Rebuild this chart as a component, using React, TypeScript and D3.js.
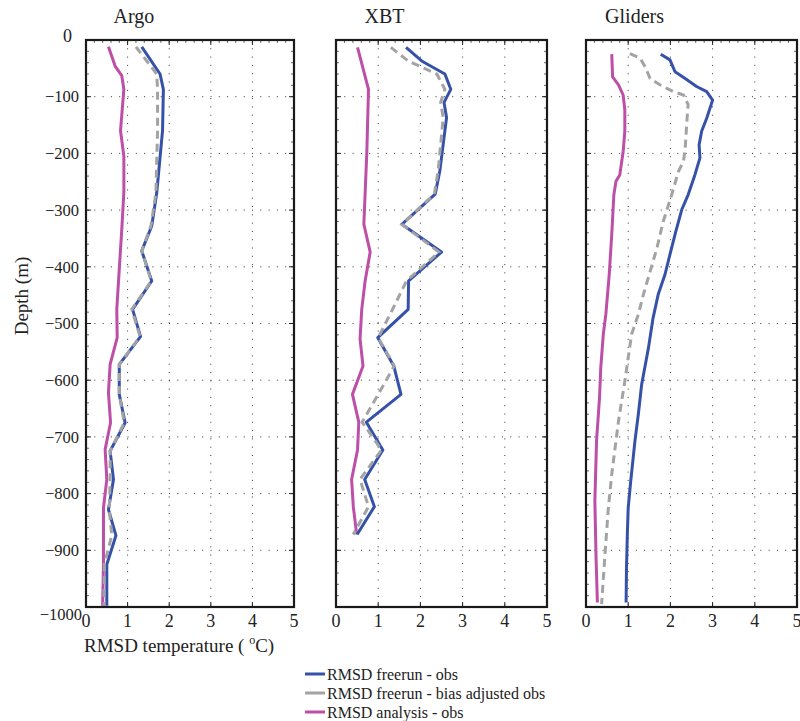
import * as d3 from "d3";

// depth in metres (positive down), RMSD in degC
const depthTicks = [0, 100, 200, 300, 400, 500, 600, 700, 800, 900, 1000];
const tempTicks = [0, 1, 2, 3, 4, 5];

const argoDepth = [12, 60, 87, 160, 270, 328, 372, 425, 475, 523, 572, 625, 675, 725, 775, 828, 874, 925, 998];
const argoFreerun = [1.34, 1.78, 1.86, 1.84, 1.7, 1.58, 1.34, 1.58, 1.12, 1.31, 0.8, 0.8, 0.94, 0.58, 0.66, 0.54, 0.72, 0.5, 0.5];
const argoBiasAdj = [1.2, 1.7, 1.72, 1.72, 1.68, 1.56, 1.34, 1.57, 1.1, 1.3, 0.8, 0.8, 0.92, 0.58, 0.58, 0.56, 0.62, 0.44, 0.43];
const argoAnaDepth = [12, 46, 63, 87, 160, 205, 269, 334, 404, 475, 525, 572, 622, 675, 722, 775, 825, 922, 998];
const argoAnalysis = [0.54, 0.7, 0.86, 0.91, 0.83, 0.91, 0.91, 0.86, 0.8, 0.74, 0.75, 0.58, 0.54, 0.59, 0.46, 0.5, 0.42, 0.42, 0.4];

const xbtDepth = [13, 37, 60, 87, 110, 137, 231, 272, 325, 374, 425, 475, 525, 575, 625, 674, 723, 775, 823, 872];
const xbtFreerun = [1.66, 2.03, 2.58, 2.72, 2.56, 2.62, 2.46, 2.35, 1.56, 2.5, 1.72, 1.71, 0.99, 1.37, 1.54, 0.72, 1.11, 0.68, 0.91, 0.5];
const xbtBiasAdj = [1.3, 1.71, 2.39, 2.58, 2.48, 2.54, 2.42, 2.33, 1.56, 2.44, 1.67, 1.34, 1.0, 1.38, 1.0, 0.62, 1.08, 0.57, 0.77, 0.41];
const xbtAnaDepth = [13, 87, 199, 325, 374, 425, 475, 527, 575, 625, 674, 723, 775, 823, 872];
const xbtAnalysis = [0.51, 0.77, 0.73, 0.66, 0.81, 0.69, 0.61, 0.57, 0.64, 0.39, 0.54, 0.51, 0.37, 0.41, 0.49];

const gliderFrDepth = [25, 35, 56, 68, 82, 91, 106, 138, 161, 185, 208, 238, 273, 299, 337, 378, 414, 449, 490, 543, 607, 660, 707, 778, 825, 871, 930, 992];
const gliderFreerun = [1.77, 1.99, 2.11, 2.35, 2.62, 2.86, 3.0, 2.86, 2.74, 2.68, 2.7, 2.58, 2.42, 2.27, 2.13, 1.99, 1.87, 1.71, 1.59, 1.48, 1.32, 1.24, 1.16, 1.06, 1.0, 0.98, 0.96, 0.95];
const gliderBaDepth = [24, 32, 47, 68, 79, 91, 97, 114, 144, 191, 214, 232, 273, 320, 367, 408, 449, 484, 519, 602, 672, 766, 825, 907, 995];
const gliderBiasAdj = [1.04, 1.28, 1.4, 1.52, 1.75, 2.07, 2.31, 2.42, 2.39, 2.35, 2.31, 2.19, 2.03, 1.83, 1.68, 1.52, 1.36, 1.24, 1.08, 0.92, 0.77, 0.61, 0.53, 0.45, 0.37];
const gliderAnaDepth = [25, 65, 79, 97, 123, 161, 197, 238, 249, 273, 343, 414, 484, 519, 578, 631, 707, 813, 918, 992];
const gliderAnalysis = [0.61, 0.63, 0.77, 0.88, 0.92, 0.92, 0.88, 0.8, 0.71, 0.66, 0.61, 0.55, 0.47, 0.41, 0.35, 0.32, 0.25, 0.21, 0.24, 0.27];

const legendLabels = ["RMSD freerun - obs", "RMSD freerun - bias adjusted obs", "RMSD analysis - obs"];

const BLUE = "#3552a8";
const GRAY = "#a3a3a6";
const MAGENTA = "#bd4fa6";
const FONT = "Liberation Serif, Times New Roman, DejaVu Serif, Noto Serif, serif";

const top = 40;
const bottom = 607;

const zip = (d: number[], v: number[]) => d.map((dd, i) => [v[i], dd] as [number, number]);

const panels = [
  { title: "Argo", left: 86, right: 294, fr: zip(argoDepth, argoFreerun), ba: zip(argoDepth, argoBiasAdj), an: zip(argoAnaDepth, argoAnalysis) },
  { title: "XBT", left: 336, right: 547, fr: zip(xbtDepth, xbtFreerun), ba: zip(xbtDepth, xbtBiasAdj), an: zip(xbtAnaDepth, xbtAnalysis) },
  { title: "Gliders", left: 586, right: 797, fr: zip(gliderFrDepth, gliderFreerun), ba: zip(gliderBaDepth, gliderBiasAdj), an: zip(gliderAnaDepth, gliderAnalysis) },
];

function Panel({ p, first }: { p: (typeof panels)[number]; first: boolean }) {
  const x = d3.scaleLinear().domain([0, 5]).range([p.left, p.right]);
  const y = d3.scaleLinear().domain([0, 1000]).range([top, bottom]);
  const line = d3
    .line<[number, number]>()
    .x((d) => x(d[0]))
    .y((d) => y(d[1]));
  const minorX = d3.range(0, 5.001, 0.2);
  const minorY = d3.range(0, 1000.1, 20);
  return (
    <g>
      {/* dotted grid */}
      {tempTicks.slice(1, -1).map((t) => (
        <line key={"gx" + t} x1={x(t)} x2={x(t)} y1={top} y2={bottom} stroke="#333" strokeWidth={1} strokeDasharray="1,7.3" />
      ))}
      {depthTicks.slice(1, -1).map((t) => (
        <line key={"gy" + t} x1={p.left} x2={p.right} y1={y(t)} y2={y(t)} stroke="#333" strokeWidth={1} strokeDasharray="1,7.3" />
      ))}
      {/* minor ticks */}
      {minorX.map((t, i) => (
        <line key={"mx" + i} x1={x(t)} x2={x(t)} y1={top} y2={top + 3} stroke="#444" strokeWidth={0.8} />
      ))}
      {minorY.map((t, i) => (
        <g key={"my" + i}>
          <line x1={p.left} x2={p.left + 3} y1={y(t)} y2={y(t)} stroke="#444" strokeWidth={0.8} />
          <line x1={p.right - 3} x2={p.right} y1={y(t)} y2={y(t)} stroke="#444" strokeWidth={0.8} />
        </g>
      ))}
      {tempTicks.map((t) => (
        <g key={"tx" + t}>
          <line x1={x(t)} x2={x(t)} y1={bottom} y2={bottom - 5} stroke="#222" />
          <line x1={x(t)} x2={x(t)} y1={top} y2={top + 5} stroke="#222" />
          <text x={x(t)} y={627} textAnchor="middle" fontSize={18} fontFamily={FONT} fill="#222">
            {t}
          </text>
        </g>
      ))}
      {depthTicks.map((t) => (
        <g key={"ty" + t}>
          <line x1={p.left} x2={p.left + 5} y1={y(t)} y2={y(t)} stroke="#222" />
          <line x1={p.right - 5} x2={p.right} y1={y(t)} y2={y(t)} stroke="#222" />
        </g>
      ))}
      {first &&
        depthTicks.map((t) => {
          const lx = t === 0 ? p.left - 14 : t === 1000 ? p.left - 4 : p.left - 7;
          const ly = t === 0 ? y(t) - 4 : t === 1000 ? y(t) + 7 : y(t);
          return (
            <text key={"ly" + t} x={lx} y={ly} dy="0.35em" textAnchor="end" fontSize={t === 0 ? 18 : 16.5} fontFamily={FONT} fill="#222">
              {t === 0 ? "0" : "\u2212" + t}
            </text>
          );
        })}
      {/* series */}
      <path d={line(p.an) ?? ""} fill="none" stroke={MAGENTA} strokeWidth={3} strokeLinejoin="round" />
      <path d={line(p.fr) ?? ""} fill="none" stroke={BLUE} strokeWidth={3} strokeLinejoin="round" />
      <path d={line(p.ba) ?? ""} fill="none" stroke={GRAY} strokeWidth={3} strokeDasharray="8,5" />
      <rect x={p.left} y={top} width={p.right - p.left} height={bottom - top} fill="none" stroke="#1a1a1a" strokeWidth={2.2} />
      <text x={x(1.15)} y={23} textAnchor="middle" fontSize={20} fontFamily={FONT} fill="#222">
        {p.title}
      </text>
    </g>
  );
}

export default function App() {
  const legendColors = [BLUE, GRAY, MAGENTA];
  const legendY = d3.scaleBand<number>().domain([0, 1, 2]).range([664.5, 721.5]);
  return (
    <svg width={800} height={721} style={{ position: "absolute", left: 0, top: 0, background: "#fff" }}>
      <rect width={800} height={721} fill="#fff" />
      {panels.map((p, i) => (
        <Panel key={p.title} p={p} first={i === 0} />
      ))}
      <text transform="translate(28,296) rotate(-90)" textAnchor="middle" fontSize={19} fontFamily={FONT} fill="#222">
        Depth (m)
      </text>
      <text x={84} y={652} fontSize={19} fontFamily={FONT} fill="#222">
        RMSD temperature ({" "}
        <tspan fontSize={12} dy={-8}>
          o
        </tspan>
        <tspan dy={8}>C)</tspan>
      </text>
      {legendLabels.map((l, i) => {
        const cy = (legendY(i) ?? 0) + legendY.bandwidth() / 2;
        return (
          <g key={l}>
            <line x1={305} x2={325} y1={cy} y2={cy} stroke={legendColors[i]} strokeWidth={3} />
            <text x={327} y={cy + 5.5} fontSize={16} fontFamily={FONT} fill="#222">
              {l}
            </text>
          </g>
        );
      })}
    </svg>
  );
}
